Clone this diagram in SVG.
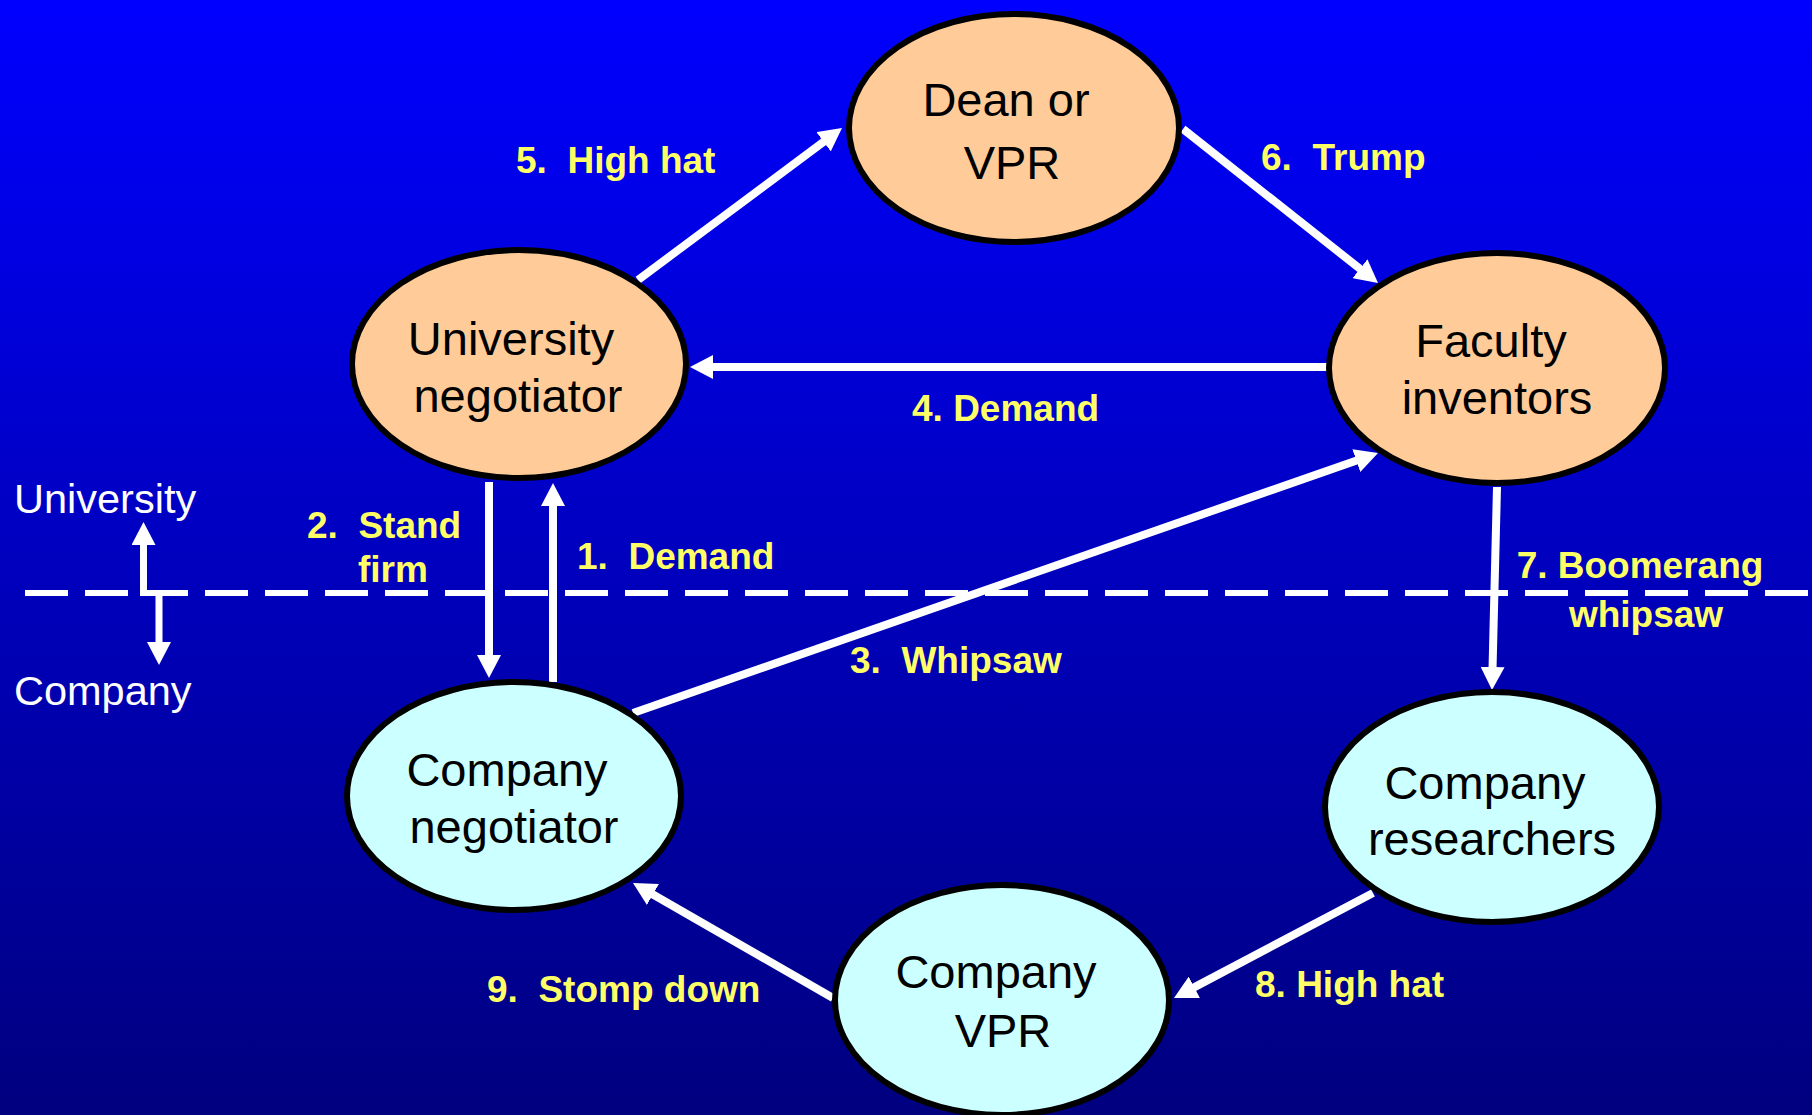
<svg xmlns="http://www.w3.org/2000/svg" width="1812" height="1115" viewBox="0 0 1812 1115">
<defs>
<linearGradient id="bg" x1="0" y1="0" x2="0" y2="1">
<stop offset="0" stop-color="#0000FF"/>
<stop offset="1" stop-color="#00007F"/>
</linearGradient>
<marker id="ah" markerUnits="userSpaceOnUse" markerWidth="24" markerHeight="24" refX="11" refY="12" orient="auto">
<path d="M0,0 L23,12 L0,24 z" fill="#FFFFFF"/>
</marker>
<style>
.uni{fill:#FFCC99;stroke:#000;stroke-width:6}
.com{fill:#CCFFFF;stroke:#000;stroke-width:6}
.nt{font-family:"Liberation Sans",Arial,sans-serif;font-size:47px;fill:#000;text-anchor:middle}
.lb{font-family:"Liberation Sans",Arial,sans-serif;font-size:37px;font-weight:bold;fill:#FFFF66}
.side{font-family:"Liberation Sans",Arial,sans-serif;font-size:41.5px;fill:#FFFFFF}
.arr{stroke:#FFFFFF;stroke-width:8;fill:none;marker-end:url(#ah)}
.sarr{stroke:#FFFFFF;stroke-width:7;fill:none;marker-end:url(#ah)}
</style>
</defs>
<rect x="0" y="0" width="1812" height="1115" fill="url(#bg)"/>

<g id="divider">
<line x1="25" y1="593" x2="1812" y2="593" stroke="#FFFFFF" stroke-width="6" stroke-dasharray="43 17"/>
<line class="sarr" x1="143.5" y1="596" x2="143.5" y2="534"/>
<line class="sarr" x1="159" y1="590" x2="159" y2="653"/>
<text class="side" x="14" y="513">University</text>
<text class="side" x="14" y="705">Company</text>
</g>

<g id="connectors">
<line class="arr" x1="553" y1="682" x2="553" y2="495"/>
<line class="arr" x1="489" y1="482" x2="489" y2="666"/>
<line class="arr" x1="1330" y1="367" x2="702" y2="367"/>
<line class="arr" x1="638" y1="280" x2="832.4" y2="135.2"/>
<line class="arr" x1="1183" y1="129" x2="1368.6" y2="275.6"/>
<line class="arr" x1="633" y1="713" x2="1366.7" y2="457"/>
<line class="arr" x1="1497" y1="487" x2="1492.3" y2="678"/>
<line class="arr" x1="1373" y1="893" x2="1184.6" y2="992.4"/>
<line class="arr" x1="833" y1="998" x2="643.4" y2="889"/>
</g>

<g id="labels">
<text class="lb" x="516" y="173" xml:space="preserve">5.  High hat</text>
<text class="lb" x="1261" y="170" xml:space="preserve">6.  Trump</text>
<text class="lb" x="912" y="421">4. Demand</text>
<text class="lb" x="307" y="538" xml:space="preserve">2.  Stand</text>
<text class="lb" x="358" y="582">firm</text>
<text class="lb" x="577" y="569" xml:space="preserve">1.  Demand</text>
<text class="lb" x="850" y="673" xml:space="preserve">3.  Whipsaw</text>
<text class="lb" x="1640" y="578" text-anchor="middle">7. Boomerang</text>
<text class="lb" x="1646" y="627" text-anchor="middle">whipsaw</text>
<text class="lb" x="487" y="1002" xml:space="preserve">9.  Stomp down</text>
<text class="lb" x="1255" y="997">8. High hat</text>
</g>

<g id="dean">
<ellipse class="uni" cx="1014" cy="128" rx="165" ry="114"/>
<text class="nt" x="1006" y="116">Dean or</text>
<text class="nt" x="1012" y="179">VPR</text>
</g>
<g id="university-negotiator">
<ellipse class="uni" cx="519" cy="364" rx="167" ry="114"/>
<text class="nt" x="511" y="355">University</text>
<text class="nt" x="518" y="412">negotiator</text>
</g>
<g id="faculty-inventors">
<ellipse class="uni" cx="1497" cy="368" rx="168" ry="115"/>
<text class="nt" x="1491" y="357">Faculty</text>
<text class="nt" x="1497" y="414">inventors</text>
</g>
<g id="company-negotiator">
<ellipse class="com" cx="514" cy="796" rx="167" ry="114"/>
<text class="nt" x="507" y="786">Company</text>
<text class="nt" x="514" y="843">negotiator</text>
</g>
<g id="company-researchers">
<ellipse class="com" cx="1492" cy="807" rx="167" ry="115"/>
<text class="nt" x="1485" y="799">Company</text>
<text class="nt" x="1492" y="855">researchers</text>
</g>
<g id="company-vpr">
<ellipse class="com" cx="1002" cy="1000" rx="167" ry="115"/>
<text class="nt" x="996" y="988">Company</text>
<text class="nt" x="1003" y="1047">VPR</text>
</g>
</svg>
